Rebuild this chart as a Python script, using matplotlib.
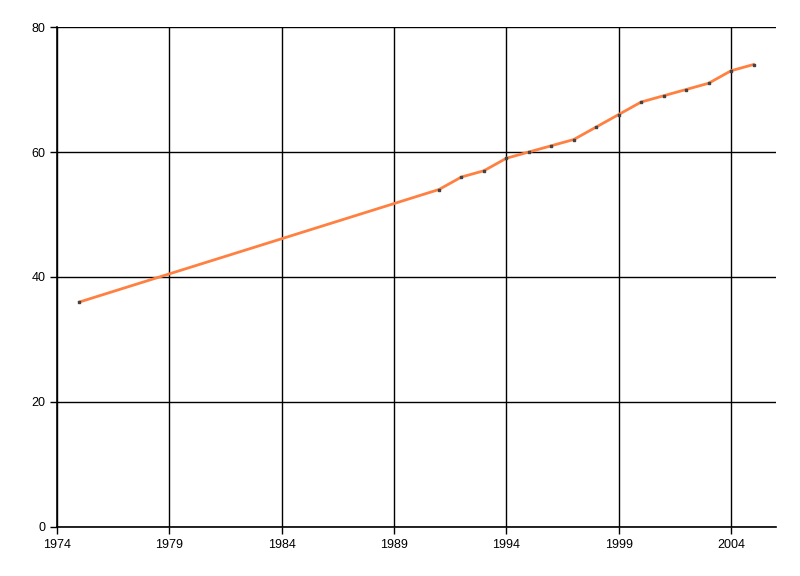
import matplotlib.pyplot as plt
from matplotlib import font_manager

years = [1975, 1991, 1992, 1993, 1994, 1995, 1996, 1997, 1998, 1999,
         2000, 2001, 2002, 2003, 2004, 2005]
values = [36, 54, 56, 57, 59, 60, 61, 62, 64, 66,
          68, 69, 70, 71, 73, 74]
x_ticks = [1974, 1979, 1984, 1989, 1994, 1999, 2004]
y_ticks = [0, 20, 40, 60, 80]

names = {f.name for f in font_manager.fontManager.ttflist}
font = 'Liberation Sans Narrow' if 'Liberation Sans Narrow' in names else 'Liberation Sans'
plt.rcParams['font.family'] = [font, 'DejaVu Sans']

fig = plt.figure(figsize=(8, 5.76), dpi=100)
ax = fig.add_axes([0.07125, 0.0851, 0.89875, 0.868])

ax.plot(years, values, color='#ff8040', linewidth=2, zorder=3)
ax.scatter(years, values, s=3, marker='s', color='#444444', zorder=4)

ax.set_xlim(1974, 2006)
ax.set_ylim(0, 80)
ax.set_xticks(x_ticks)
ax.set_yticks(y_ticks)
ax.grid(True, color='black', linewidth=1)
ax.set_axisbelow(True)

for side in ['top', 'right']:
    ax.spines[side].set_visible(False)
for side in ['left', 'bottom']:
    ax.spines[side].set_linewidth(1.2)
ax.tick_params(direction='out', length=5, width=1, labelsize=9, colors='black')

fig.savefig('out.png', dpi=100)
